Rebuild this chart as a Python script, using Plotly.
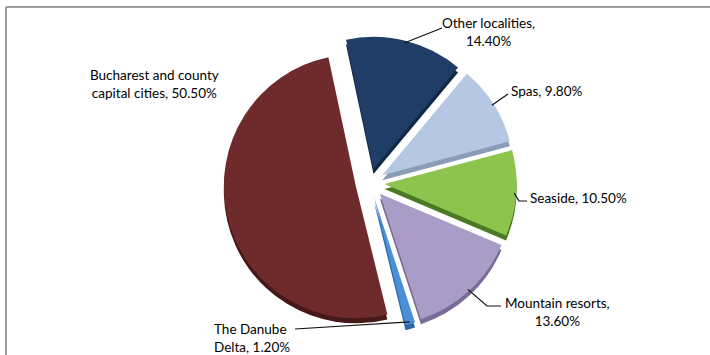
import math
import plotly.graph_objects as go

# ---- data -------------------------------------------------------------
categories = [
    "Other localities",
    "Spas",
    "Seaside",
    "Mountain resorts",
    "The Danube Delta",
    "Bucharest and county capital cities",
]
shares = [14.4, 9.8, 10.5, 13.6, 1.2, 50.5]
# how each category's label is broken into lines ({p} = percentage)
label_templates = [
    ["Other localities,", "{p}"],
    ["Spas, {p}"],
    ["Seaside, {p}"],
    ["Mountain resorts,", "{p}"],
    ["The Danube", "Delta, {p}"],
    ["Bucharest and county", "capital cities, {p}"],
]

# ---- styling ----------------------------------------------------------
top_colors = ["#1F3D66", "#B6C8E1", "#8DC44E", "#A99CC6", "#4A8FD8", "#6F2B2B"]
side_colors = ["#132846", "#8A9CB6", "#4C7A24", "#786B96", "#2C66A8", "#461919"]

W, H = 710, 355
CX, CY = 370, 183        # pie centre (px)
R = 132                  # pie radius (px)
PULL = 0.11              # explode fraction of radius
DEPTH = 5                # thickness of the extruded side (px)
ROT = -12                # start angle of first slice, clockwise from 12 o'clock
FONT = dict(family="Lato, Calibri, Arial", size=13.5, color="#000000")

# label text anchor (px): x, y, xanchor, align
label_pos = [
    (488, 32.5, "center", "center"),
    (509, 91, "left", "left"),
    (528, 198, "left", "left"),
    (557, 312, "center", "center"),
    (212, 337.5, "left", "left"),
    (154, 83.5, "center", "center"),
]
# leader line waypoints (px) after leaving the slice rim
leader_pts = [
    [(442, 28)],
    [(508, 94)],
    [(519, 201), (527, 201)],
    [(487, 306), (501, 306)],
    [(295, 329)],
    None,
]


def px_to_paper(x, y):
    return x / W, 1 - y / H


def domain_for(cy):
    half = R * (1 + PULL)
    return dict(
        x=[(CX - half) / W, (CX + half) / W],
        y=[1 - (cy + half) / H, 1 - (cy - half) / H],
    )


fig = go.Figure()

common = dict(
    labels=categories,
    values=shares,
    sort=False,
    direction="clockwise",
    rotation=ROT,
    pull=[PULL] * len(shares),
    textinfo="none",
    hoverinfo="skip",
    showlegend=False,
)

# extruded side (drawn first, shifted down)
fig.add_trace(go.Pie(domain=domain_for(CY + DEPTH),
                     marker=dict(colors=side_colors, line=dict(width=0)),
                     **common))
# top face
fig.add_trace(go.Pie(domain=domain_for(CY),
                     marker=dict(colors=top_colors, line=dict(width=0)),
                     **common))

total = sum(shares)
shapes = []
annotations = []
start = ROT
for i, v in enumerate(shares):
    span = 360 * v / total
    mid = math.radians(start + span / 2)
    start += span
    s, c = math.sin(mid), math.cos(mid)
    ax_, ay_ = CX + PULL * R * s, CY - PULL * R * c
    rim = (ax_ + 0.985 * R * s, ay_ - 0.985 * R * c)

    pct = f"{v:.2f}%"
    text = "<br>".join(t.format(p=pct) for t in label_templates[i])
    lx, ly, xa, al = label_pos[i]
    px, py = px_to_paper(lx, ly)
    annotations.append(dict(
        x=px, y=py, xref="paper", yref="paper", text=text,
        showarrow=False, xanchor=xa, yanchor="middle", align=al, font=FONT,
    ))

    if leader_pts[i]:
        pts = [rim] + leader_pts[i]
        path = "M " + " L ".join(
            f"{px_to_paper(x, y)[0]:.5f},{px_to_paper(x, y)[1]:.5f}" for x, y in pts)
        shapes.append(dict(type="path", path=path, xref="paper", yref="paper",
                           line=dict(color="#111111", width=1.2)))

# chart frame (top and left edges)
x0, y0 = px_to_paper(6, 7)
shapes.append(dict(type="line", xref="paper", yref="paper",
                   x0=x0, y0=y0, x1=1, y1=y0, line=dict(color="#9c9c9c", width=2)))
shapes.append(dict(type="line", xref="paper", yref="paper",
                   x0=x0, y0=y0, x1=x0, y1=0, line=dict(color="#9c9c9c", width=2)))

fig.update_layout(
    width=W, height=H,
    margin=dict(l=0, r=0, t=0, b=0),
    paper_bgcolor="white",
    plot_bgcolor="white",
    shapes=shapes,
    annotations=annotations,
)

fig.write_html("out.html")
